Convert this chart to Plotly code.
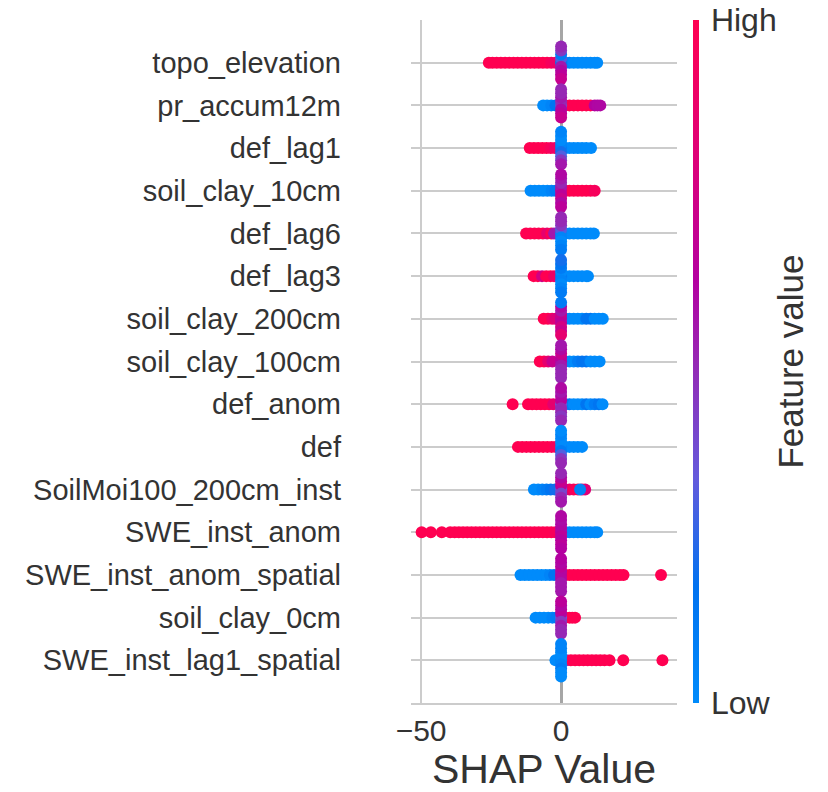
import numpy as np
import plotly.graph_objects as go

features = ["topo_elevation", "pr_accum12m", "def_lag1", "soil_clay_10cm", "def_lag6",
            "def_lag3", "soil_clay_200cm", "soil_clay_100cm", "def_anom", "def",
            "SoilMoi100_200cm_inst", "SWE_inst_anom", "SWE_inst_anom_spatial",
            "soil_clay_0cm", "SWE_inst_lag1_spatial"]

# SHAP values (per feature) and normalized feature values (0 = low, 1 = high)
shap_topo_elevation = [-25.8, -24.5, -23, -21.5, -20, -18.5, -17, -15.5, -14, -12.5, -11, -9.5, -8, -6.5, -5, -3.5, -2,
                       1.5, 3, 4.5, 6, 7.5, 9, 10.5, 12, 12.9,
                       0, 0, 0, 0, 0, 0, 0, 0, 0]
fval_topo_elevation = [1, 1, 1, 1, 1, 1, 1, 1, 1, 1, 1, 1, 1, 1, 1, 0.95, 0.9,
                       0.15, 0.05, 0, 0, 0, 0, 0, 0, 0,
                       0.15, 0.3, 0.55, 0.1, 0.6, 0.45, 0.65, 0.5, 0.7]

shap_pr_accum12m = [-6.4, -5, -3.5, -2,
                    1.5, 3, 4.5, 6, 7.5, 9, 10.5, 12, 13, 14,
                    0, 0, 0, 0, 0, 0, 0, 0]
fval_pr_accum12m = [0, 0, 0.05, 0.15,
                    1, 1, 1, 1, 1, 1, 1, 0.62, 0.6, 0.6,
                    0.4, 0.5, 0.6, 0.55, 0.65, 0.5, 0.7, 0.5]

shap_def_lag1 = [-11.2, -9.7, -8.2, -6.7, -5.2, -3.7, -2.2,
                 1.5, 3, 4.5, 6, 7.5, 9, 10.7,
                 0, 0, 0, 0, 0, 0, 0, 0, 0]
fval_def_lag1 = [1, 1, 1, 1, 1, 0.95, 0.9,
                 0.05, 0, 0, 0, 0, 0, 0,
                 0.1, 0.05, 0.2, 0.0, 0.3, 0.0, 0.45, 0.05, 0.55]

shap_soil_clay_10cm = [-10.9, -9.4, -7.9, -6.4, -4.9, -3.4, -2,
                       1.5, 3, 4.5, 6, 7.5, 9, 10.5, 12,
                       0, 0, 0, 0, 0, 0, 0, 0, 0]
fval_soil_clay_10cm = [0, 0, 0, 0, 0, 0.05, 0.1,
                       0.9, 1, 1, 1, 1, 1, 1, 0.95,
                       0.7, 0.55, 0.65, 0.5, 0.7, 0.55, 0.6, 0.6, 0.65]

shap_def_lag6 = [-12.5, -11, -9.5, -8, -6.5, -5, -3.5, -2.5,
                 1.5, 3, 4.5, 6, 7.5, 9, 10.5, 11.7,
                 0, 0, 0, 0, 0, 0, 0, 0, 0]
fval_def_lag6 = [1, 1, 1, 1, 1, 0.85, 1, 0.55,
                 0, 0, 0, 0, 0, 0, 0, 0,
                 0.05, 0.3, 0.05, 0.45, 0.0, 0.5, 0.05, 0.5, 0.1]

shap_def_lag3 = [-9.8, -8.3, -6.8, -5.3, -3.8, -2.5,
                 1.5, 3, 4.5, 6, 7.5, 9, 9.6,
                 0, 0, 0, 0, 0, 0, 0, 0, 0]
fval_def_lag3 = [1, 1, 0.75, 1, 1, 0.9,
                 0, 0, 0, 0, 0, 0, 0,
                 0.1, 0.0, 0.05, 0.1, 0.0, 0.15, 0.05, 0.2, 0.1]

shap_soil_clay_200cm = [-6.2, -4.7, -3.2, -2,
                        1.5, 3, 4.5, 6, 7.5, 9, 10.5, 12, 13.5, 14.9,
                        0, 0, 0, 0, 0, 0, 0, 0, 0]
fval_soil_clay_200cm = [1, 1, 0.9, 0.8,
                        0.05, 0, 0, 0, 0, 0.15, 0.15, 0, 0, 0,
                        0.6, 0.7, 0.65, 0.55, 0.75, 0.6, 0.7, 0.1, 0.85]

shap_soil_clay_100cm = [-7.6, -6.1, -4.6, -3.1,
                        1.5, 3, 4.5, 6, 7.5, 9, 10.5, 12, 13.75,
                        0, 0, 0, 0, 0, 0, 0, 0, 0]
fval_soil_clay_100cm = [1, 1, 0.85, 0.7,
                        0.05, 0, 0, 0.1, 0.15, 0.15, 0, 0, 0,
                        0.6, 0.65, 0.55, 0.7, 0.5, 0.6, 0.5, 0.55, 0.5]

shap_def_anom = [-17.3, -11.8, -10.3, -8.8, -7.3, -5.8, -4.3, -2.8,
                 1.5, 3, 4.5, 6, 7.5, 9, 10.5, 12, 13.5, 14.8,
                 0, 0, 0, 0, 0, 0, 0, 0, 0]
fval_def_anom = [1, 1, 1, 1, 1, 1, 1, 0.85,
                 0.25, 0.1, 0, 0, 0, 0.15, 0, 0.1, 0.15, 0,
                 0.35, 0.65, 0.5, 0.6, 0.5, 0.55, 0.45, 0.6, 0.5]

shap_def = [-15.4, -13.9, -12.4, -10.9, -9.4, -7.9, -6.4, -4.9, -3.4, -2,
            1.5, 3, 4.5, 6, 7.5,
            0, 0, 0, 0, 0, 0, 0, 0, 0]
fval_def = [1, 1, 1, 1, 1, 1, 1, 1, 1, 0.95,
            0.1, 0, 0, 0, 0,
            0.05, 0.0, 0.1, 0.0, 0.3, 0.05, 0.45, 0.0, 0.5]

shap_SoilMoi100_200cm_inst = [-9.7, -8.2, -6.7, -5.2, -3.7, -2.2,
                              1.5, 3, 4.5, 6, 7.5, 8.6, 6.8,
                              0, 0, 0, 0, 0, 0, 0, 0]
fval_SoilMoi100_200cm_inst = [0, 0, 0.05, 0.1, 0.15, 0.2,
                              0.7, 0.85, 0.95, 1, 0.9, 0.8, 0.05,
                              0.35, 0.65, 0.4, 0.7, 0.5, 0.6, 0.55, 0.5]

shap_SWE_inst_anom = [-49.8, -46.5, -42.6,
                      -39.6, -38, -36.5, -35, -33.5, -32, -30.5, -29, -27.5, -26, -24.5, -23, -21.5,
                      -20, -18.5, -17, -15.5, -14, -12.5, -11, -9.5, -8, -6.5, -5, -3.5, -2,
                      1.5, 3, 4.5, 6, 7.5, 9, 10.5, 12, 12.9,
                      0, 0, 0, 0, 0, 0, 0, 0, 0]
fval_SWE_inst_anom = [1, 1, 1,
                      1, 1, 1, 1, 1, 1, 1, 1, 1, 1, 1, 1, 1,
                      1, 1, 1, 1, 1, 1, 1, 1, 1, 1, 1, 1, 0.95,
                      0, 0, 0, 0, 0, 0, 0, 0, 0,
                      0.62, 0.6, 0.65, 0.6, 0.62, 0.58, 0.65, 0.6, 0.62]

shap_SWE_inst_anom_spatial = [-14.5, -13, -11.5, -10, -8.5, -7, -5.5, -4, -2.5,
                              1.5, 3, 4.5, 6, 7.5, 9, 10.5, 12, 13.5, 15, 16.5, 18, 19.5, 21, 22.3,
                              35.7,
                              0, 0, 0, 0, 0, 0, 0, 0, 0]
fval_SWE_inst_anom_spatial = [0, 0, 0, 0, 0, 0, 0, 0.05, 0.15,
                              1, 1, 1, 1, 1, 1, 1, 1, 1, 1, 1, 1, 1, 1, 1,
                              1,
                              0.65, 0.6, 0.6, 0.65, 0.55, 0.6, 0.55, 0.62, 0.55]

shap_soil_clay_0cm = [-9.1, -7.6, -6.1, -4.6, -3.1, -1.8,
                      1.5, 3, 4, 5,
                      0, 0, 0, 0, 0, 0, 0, 0, 0]
fval_soil_clay_0cm = [0, 0, 0, 0, 0.05, 0.1,
                      1, 1, 1, 1,
                      0.35, 0.6, 0.45, 0.65, 0.55, 0.6, 0.5, 0.65, 0.5]

shap_SWE_inst_lag1_spatial = [-2,
                              2, 3.5, 5, 6.5, 8, 9.5, 11, 12.5, 14, 15.5, 17.3, 22.2, 36.2,
                              0, 0, 0, 0, 0, 0, 0, 0, 0]
fval_SWE_inst_lag1_spatial = [0,
                              0.45, 1, 1, 1, 1, 1, 1, 1, 1, 1, 1, 1, 1,
                              0.05, 0.0, 0.05, 0.0, 0.1, 0.05, 0.0, 0.05, 0.0]

rows = [
    (shap_topo_elevation, fval_topo_elevation),
    (shap_pr_accum12m, fval_pr_accum12m),
    (shap_def_lag1, fval_def_lag1),
    (shap_soil_clay_10cm, fval_soil_clay_10cm),
    (shap_def_lag6, fval_def_lag6),
    (shap_def_lag3, fval_def_lag3),
    (shap_soil_clay_200cm, fval_soil_clay_200cm),
    (shap_soil_clay_100cm, fval_soil_clay_100cm),
    (shap_def_anom, fval_def_anom),
    (shap_def, fval_def),
    (shap_SoilMoi100_200cm_inst, fval_SoilMoi100_200cm_inst),
    (shap_SWE_inst_anom, fval_SWE_inst_anom),
    (shap_SWE_inst_anom_spatial, fval_SWE_inst_anom_spatial),
    (shap_soil_clay_0cm, fval_soil_clay_0cm),
    (shap_SWE_inst_lag1_spatial, fval_SWE_inst_lag1_spatial),
]

colorscale = [
    [0.0, "rgb(0,139,251)"],
    [0.17, "rgb(0,114,240)"],
    [0.33, "rgb(100,90,220)"],
    [0.5, "rgb(150,40,180)"],
    [0.62, "rgb(180,0,160)"],
    [0.8, "rgb(222,0,120)"],
    [1.0, "rgb(255,0,81)"],
]

n = len(features)
BIN_W = 1.0
STEP = 0.095

xs, ys, cs = [], [], []
for i, (sv, fv) in enumerate(rows):
    base = n - 1 - i
    counts = {}
    for x, c in zip(sv, fv):
        b = int(np.floor(x / BIN_W + 0.5))
        k = counts.get(b, 0)
        counts[b] = k + 1
        layer = (k + 1) // 2
        sign = 1 if k % 2 == 1 else -1
        off = sign * layer * STEP
        xs.append(x)
        ys.append(base + off)
        cs.append(c)

fig = go.Figure()
fig.add_trace(go.Scatter(
    x=xs, y=ys, mode="markers",
    marker=dict(size=12, color=cs, colorscale=colorscale, cmin=0, cmax=1,
                line=dict(width=0),
                colorbar=dict(
                    thickness=6, thicknessmode="pixels", len=1.0, lenmode="fraction",
                    x=1.06, xanchor="left", y=0, yanchor="bottom", ypad=0, xpad=0,
                    outlinewidth=0, ticks="outside", ticklen=6, tickcolor="rgba(0,0,0,0)",
                    tickvals=[0, 1], ticktext=["Low", "High"],
                    tickfont=dict(size=32, color="#333333"),
                )),
    showlegend=False, hoverinfo="skip",
))

fig.add_annotation(
    text="Feature value", xref="paper", yref="paper",
    x=1.425, y=0.5, xanchor="center", yanchor="middle", textangle=-90,
    showarrow=False, font=dict(size=35, color="#333333"),
)

fig.update_layout(
    width=828, height=792,
    margin=dict(l=411, r=151, t=20, b=89, autoexpand=False),
    paper_bgcolor="white", plot_bgcolor="white",
    font=dict(family="Liberation Sans, Arial, sans-serif", color="#333333"),
    xaxis=dict(range=[-53.6, 41.4], tickvals=[-50, 0], ticktext=["\u221250", "0"],
               automargin=False,
               showgrid=True, gridcolor="#cccccc", gridwidth=2,
               zeroline=True, zerolinecolor="#a6a6a6", zerolinewidth=3,
               showline=True, linecolor="#cccccc", linewidth=2,
               ticks="", tickfont=dict(size=30, color="#333333"),
               title=dict(text="SHAP Value", font=dict(size=41, color="#333333"), standoff=10)),
    yaxis=dict(range=[-1, n], tickvals=list(range(n - 1, -1, -1)), ticktext=features,
               automargin=False,
               showgrid=True, gridcolor="#cccccc", gridwidth=2, zeroline=False,
               showline=False, ticks="", ticklabelstandoff=69,
               tickfont=dict(size=29, color="#333333")),
)

fig.write_html("out.html")
